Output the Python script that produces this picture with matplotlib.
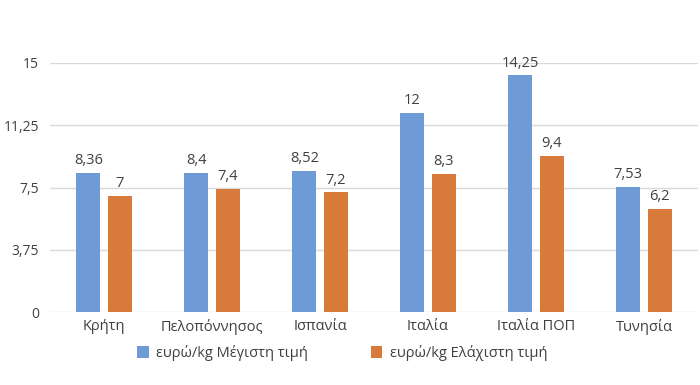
"""
Min / max price per kg by region
"""
import numpy as np
import matplotlib.pyplot as plt

# data
REGIONS = ["Κρήτη", "Πελοπόννησος", "Ισπανία", "Ιταλία", "Ιταλία ΠΟΠ", "Τυνησία"]
MAX_PRICE = [8.36, 8.4, 8.52, 12, 14.25, 7.53]
MIN_PRICE = [7, 7.4, 7.2, 8.3, 9.4, 6.2]
Y_TICKS = [0, 3.75, 7.5, 11.25, 15]
SERIES_NAMES = ["ευρώ/kg Μέγιστη τιμή", "ευρώ/kg Ελάχιστη τιμή"]

BLUE = "#6e9ad5"
ORANGE = "#d87a39"
TXT = "#404040"
FS = 10.5


def fmt(v):
    s = f"{v:g}"
    return s.replace(".", ",")


plt.rcParams['font.family'] = ['Open Sans', 'DejaVu Sans']

fig = plt.figure(figsize=(7, 3.85), dpi=100)
ax = fig.add_axes([50/700, 1 - 312/385, 648/700, (312 - 63)/385])

x = np.arange(len(REGIONS))
w = 0.22
off = 0.145
b1 = ax.bar(x - off, MAX_PRICE, w, color=BLUE, zorder=3, label=SERIES_NAMES[0])
b2 = ax.bar(x + off, MIN_PRICE, w, color=ORANGE, zorder=3, label=SERIES_NAMES[1])

for bars, vals in [(b1, MAX_PRICE), (b2, MIN_PRICE)]:
    for r, v in zip(bars, vals):
        ax.annotate(fmt(v), (r.get_x() + r.get_width()/2, v), xytext=(0, 3.5),
                    textcoords="offset points", ha="center", va="bottom",
                    fontsize=FS, color=TXT, annotation_clip=False)

ax.set_xlim(-0.5, len(REGIONS) - 0.5)
ax.set_ylim(0, 15)
ax.set_yticks(Y_TICKS)
ax.set_yticklabels([fmt(t) for t in Y_TICKS], fontsize=10, color=TXT)
ax.set_xticks(x)
ax.set_xticklabels(REGIONS, fontsize=FS, color=TXT)
ax.tick_params(axis="y", length=0, pad=8)
ax.tick_params(axis="x", length=0, pad=5)
ax.yaxis.grid(True, color="#d9d9d9", lw=1, zorder=0)
for s in ax.spines.values():
    s.set_visible(False)

fig.legend(handles=[b1, b2], labels=SERIES_NAMES, loc="center",
           bbox_to_anchor=(342/700, 1 - 353/385), ncol=2, frameon=False,
           fontsize=FS, handlelength=0.8, handleheight=0.8, columnspacing=4.3,
           labelcolor=TXT, handletextpad=0.5)

fig.savefig("out.png", dpi=100)
